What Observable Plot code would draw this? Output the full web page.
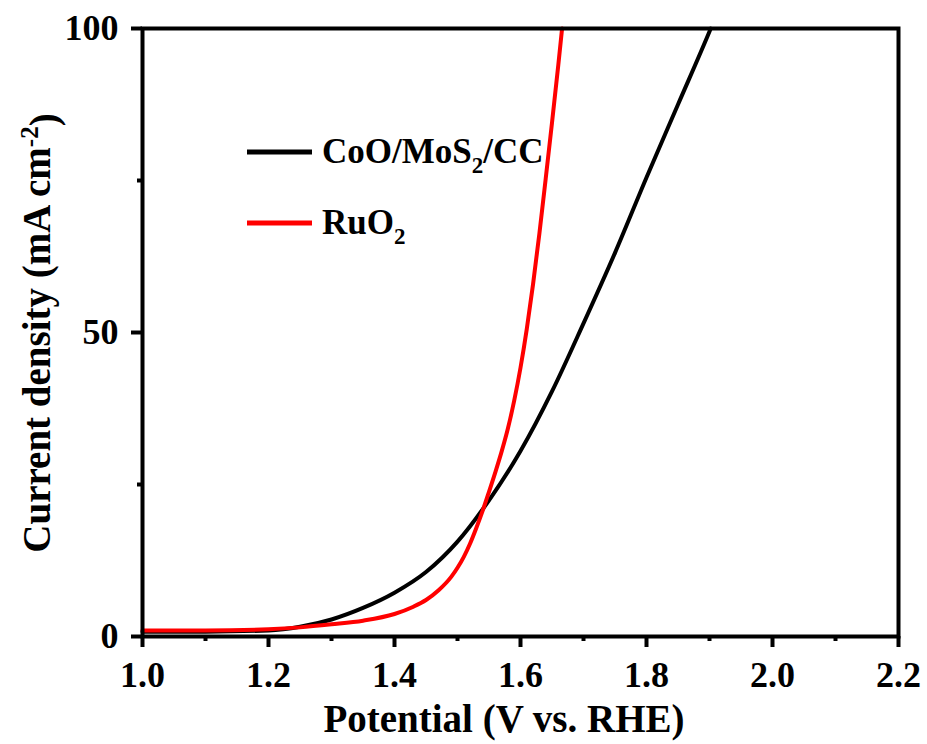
<!DOCTYPE html>
<html>
<head>
<meta charset="utf-8">
<script src="https://cdn.jsdelivr.net/npm/d3@7"></script>
<script src="https://cdn.jsdelivr.net/npm/@observablehq/plot@0.6"></script>
<style>
  html, body { margin: 0; padding: 0; background: #fff; }
  #chart { width: 927px; height: 744px; }
</style>
</head>
<body>
<div id="chart"></div>
<script>
// ---- Data ----
const seriesNames = ["CoO/MoS2/CC", "RuO2"];
const seriesColors = ["#000000", "#ff0000"];

const potentialCoO = [1.00, 1.10, 1.20, 1.25, 1.30, 1.35, 1.40, 1.45, 1.50, 1.55, 1.60, 1.65, 1.70, 1.75, 1.80, 1.85, 1.90, 1.902];
const currentCoO   = [0.8, 0.8, 1.0, 1.6, 2.8, 4.7, 7.2, 10.6, 15.6, 22.4, 30.5, 40.3, 51.5, 63.1, 75.5, 87.5, 99.5, 100];

const potentialRuO2 = [1.00, 1.10, 1.20, 1.25, 1.30, 1.35, 1.40, 1.43, 1.45, 1.47, 1.49, 1.50, 1.51, 1.52, 1.53, 1.54, 1.55, 1.56, 1.57, 1.58, 1.59, 1.60, 1.61, 1.62, 1.63, 1.64, 1.65, 1.66, 1.666];
const currentRuO2   = [1.0, 1.0, 1.2, 1.5, 2.0, 2.6, 3.7, 4.9, 6.0, 7.6, 9.8, 11.3, 13.1, 15.3, 17.9, 20.7, 23.8, 27.0, 30.4, 34.2, 38.8, 44.2, 50.6, 58.0, 66.3, 75.3, 84.5, 94.0, 100];

const xMajorTicks = [1.0, 1.2, 1.4, 1.6, 1.8, 2.0, 2.2];
const xMinorTicks = [1.1, 1.3, 1.5, 1.7, 1.9, 2.1];
const yMajorTicks = [0, 50, 100];
const yMinorTicks = [25, 75];

const xTitle = "Potential (V vs. RHE)";

// ---- Build table ----
const rows = [
  ...potentialCoO.map((p, i) => ({series: seriesNames[0], potential: p, current: currentCoO[i]})),
  ...potentialRuO2.map((p, i) => ({series: seriesNames[1], potential: p, current: currentRuO2[i]}))
];

const font = "'Liberation Serif', 'Times New Roman', serif";

const svg = Plot.plot({
  width: 927,
  height: 744,
  marginLeft: 142,
  marginRight: 29,
  marginTop: 28,
  marginBottom: 108,
  style: {fontFamily: font, fontWeight: "bold", fontSize: "36px", color: "#000", background: "#fff"},
  x: {domain: [1.0, 2.2]},
  y: {domain: [0, 100]},
  color: {domain: seriesNames, range: seriesColors},
  marks: [
    Plot.axisX({ticks: xMajorTicks, tickSize: 11, tickPadding: 14, strokeWidth: 4, tickFormat: d3.format(".1f"), label: null, fontSize: 36, fontWeight: "bold"}),
    Plot.axisX({ticks: xMinorTicks, tickSize: 5, strokeWidth: 4, tickFormat: () => "", label: null}),
    Plot.axisY({ticks: yMajorTicks, tickSize: 11, tickPadding: 13, strokeWidth: 4, tickFormat: d3.format("d"), label: null, fontSize: 36, fontWeight: "bold"}),
    Plot.axisY({ticks: yMinorTicks, tickSize: 5, strokeWidth: 4, tickFormat: () => "", label: null}),
    Plot.line(rows, {x: "potential", y: "current", z: "series", stroke: "series", strokeWidth: 4, curve: "monotone-x"}),
    Plot.frame({strokeWidth: 4, stroke: "#000"})
  ]
});

document.getElementById("chart").appendChild(svg);

// ---- Titles and legend (text with sub/superscripts) ----
const s = d3.select(svg);

s.append("text")
  .attr("x", 504).attr("y", 732)
  .attr("text-anchor", "middle")
  .style("font-family", font).style("font-weight", "bold").style("font-size", "39px")
  .attr("fill", "#000")
  .text(xTitle);

const yt = s.append("text")
  .attr("transform", "translate(50,333) rotate(-90)")
  .attr("text-anchor", "middle")
  .style("font-family", font).style("font-weight", "bold").style("font-size", "39px")
  .attr("fill", "#000");
yt.append("tspan").text("Current density (mA cm");
yt.append("tspan").attr("dy", "-0.5em").style("font-size", "25px").text("-2");
yt.append("tspan").attr("dy", "0.5em").text(")");

const legendRows = [
  {y: 152, parts: [["CoO/MoS", 0], ["2", 1], ["/CC", 0]]},
  {y: 223, parts: [["RuO", 0], ["2", 1]]}
];
legendRows.forEach((row, i) => {
  s.append("line")
    .attr("x1", 247).attr("x2", 312).attr("y1", row.y).attr("y2", row.y)
    .attr("stroke", seriesColors[i]).attr("stroke-width", 5);
  const t = s.append("text")
    .attr("x", 322).attr("y", row.y + 11)
    .attr("text-anchor", "start")
    .style("text-anchor", "start")
    .style("font-family", font).style("font-weight", "bold").style("font-size", "35px")
    .attr("fill", "#000");
  let shifted = false;
  row.parts.forEach(([txt, sub]) => {
    const ts = t.append("tspan").text(txt);
    if (sub && !shifted) { ts.attr("dy", 10).style("font-size", "23px"); shifted = true; }
    else if (!sub && shifted) { ts.attr("dy", -10); shifted = false; }
  });
});
</script>
</body>
</html>
